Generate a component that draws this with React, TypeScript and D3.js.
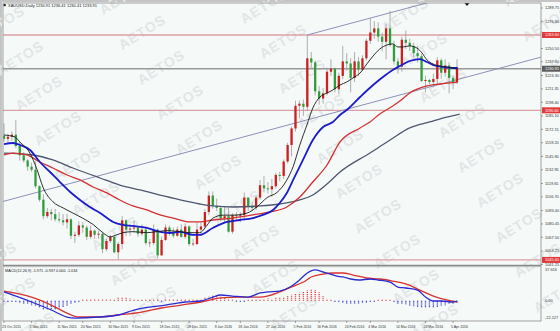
import React from 'react';
import * as d3 from 'd3';

// ---------- DATA ----------
const open = [1166,1163,1165,1167,1156,1147,1142,1136,1133,1117,1104,1088,1092,1090,1085,1084,1082,1085,1069,1070,1079,1077,1068,1074,1070,1071,1056,1064,1068,1053,1061,1084,1075,1076,1077,1071,1075,1062,1062,1075,1050,1065,1077,1073,1069,1075,1068,1078,1061,1061,1075,1078,1092,1108,1098,1096,1086,1088,1073,1089,1088,1089,1106,1098,1096,1106,1118,1115,1114,1117,1128,1127,1141,1157,1173,1195,1197,1194,1241,1237,1209,1202,1207,1228,1231,1211,1224,1238,1236,1222,1238,1230,1241,1258,1266,1270,1262,1257,1270,1254,1238,1233,1259,1256,1253,1246,1243,1219,1220,1218,1221,1239,1227,1234,1222,1218];
const high = [1178,1168,1170,1181,1160,1150,1143,1140,1141,1118,1109,1096,1095,1095,1092,1090,1090,1086,1073,1083,1082,1079,1079,1075,1074,1072,1066,1070,1069,1063,1088,1085,1080,1084,1078,1080,1078,1066,1080,1076,1068,1080,1079,1077,1078,1080,1081,1079,1066,1082,1082,1095,1112,1112,1105,1098,1097,1096,1091,1092,1092,1111,1106,1102,1108,1123,1127,1121,1124,1130,1131,1143,1159,1175,1200,1200,1201,1263.6,1247,1239,1214,1212,1232,1240,1232,1227,1253,1246,1241,1247,1242,1244,1260,1280,1277,1276,1266,1274,1287,1258,1241,1262,1268,1260,1256,1253,1245,1224,1221,1226,1242,1241,1240,1237,1224,1240];
const low = [1160,1159,1161,1154,1142,1140,1132,1131,1115,1102,1085,1086,1084,1083,1082,1079,1076,1066,1062,1068,1072,1065,1066,1066,1066,1052,1054,1062,1052,1046,1056,1069,1069,1072,1068,1069,1060,1058,1060,1047,1050,1064,1069,1067,1068,1067,1066,1059,1059,1060,1071,1076,1089,1095,1093,1083,1081,1072,1071,1084,1082,1084,1093,1093,1094,1104,1111,1110,1107,1115,1122,1124,1139,1146,1170,1183,1185,1190,1232,1205,1196,1197,1205,1224,1208,1206,1221,1229,1208,1218,1224,1229,1239,1255,1260,1257,1248,1240,1252,1235,1226,1228,1250,1248,1242,1237,1218,1208,1216,1213,1216,1221,1223,1207,1211,1216];
const close = [1163,1165,1167,1156,1147,1142,1136,1133,1117,1104,1088,1092,1090,1085,1084,1082,1085,1069,1070,1079,1077,1068,1074,1070,1071,1056,1064,1068,1053,1061,1084,1075,1076,1077,1071,1075,1062,1062.5,1075,1050,1065,1077,1073,1069,1075,1068,1078,1061,1061.5,1075,1078,1092,1108,1098,1096,1086,1088,1073,1089,1088,1089,1106,1098,1096,1106,1118,1115,1114,1117,1128,1127,1141,1157,1173,1195,1197,1194,1241,1237,1209,1202,1207,1228,1231,1211,1224,1238,1236,1222,1238,1230,1241,1258,1266,1270,1262,1257,1270,1254,1238,1233,1259,1256,1253,1246,1243,1219,1220,1218,1221,1239,1227,1234,1222,1218,1231];

// moving averages: [bar index, price]
const maBlack: [number, number][] = [[0,1166.7],[2.8,1164.7],[4,1160],[6.6,1149],[8.4,1133],[9.9,1116],[12.4,1102],[15,1096],[17.5,1091],[20,1086],[22.6,1080],[25.1,1072],[26.9,1068],[28.7,1070],[30.2,1072],[32.7,1073],[36.3,1072],[38.8,1073],[41.4,1074],[44.7,1073],[47.2,1072],[49.7,1072],[51.5,1079],[53,1086],[55.6,1089],[58.1,1089],[61.7,1091],[64.2,1097],[66.8,1106],[69.3,1111],[71.8,1123],[73.4,1136],[75.1,1157],[76.9,1176.4],[78.4,1192.8],[80.2,1203.5],[82,1207.4],[83.5,1210.3],[85.3,1215.1],[87,1218],[88.6,1222],[90.4,1226.8],[92.1,1235.5],[93.7,1243.2],[95.4,1250],[97.2,1253.9],[98.7,1254.9],[100,1252],[101.3,1252],[103,1253],[104.8,1251],[106.1,1246.2],[107.4,1239.4],[108.9,1235.5],[110.7,1233.5],[112.4,1232.6],[114,1231.6],[115,1230.6]];
const maBlue: [number, number][] = [[0,1157.9],[2.3,1158.9],[4.1,1157],[6.6,1152.1],[9.1,1140.5],[11.7,1130.8],[14.2,1121.1],[16.8,1111.4],[19.3,1103.7],[21.8,1096.9],[24.4,1091.1],[27.7,1082.4],[30.2,1079.5],[32.7,1078.5],[36.3,1076.6],[39.6,1072.7],[42.1,1071.7],[44.7,1072.7],[48,1069.8],[49.7,1069.8],[53,1076.6],[56.6,1082.4],[59.9,1084.3],[63.2,1086.2],[65.7,1089.2],[68.3,1094],[70,1100.8],[71.8,1110.5],[73.4,1123.1],[75.9,1142.5],[78.4,1161.8],[81,1174.4],[83.5,1179.3],[85.3,1186.1],[87,1190.9],[90.4,1203.5],[93.7,1215.1],[96.2,1222.9],[98.7,1229.7],[100.5,1233.5],[103,1238.4],[105.6,1240.3],[107.4,1237.4],[108.9,1234.5],[111.4,1232.6],[114,1231.6],[115.2,1231.6]];
const maRed: [number, number][] = [[0,1147.3],[2.3,1149.2],[5.8,1147.3],[9.1,1140.5],[12.4,1134.7],[16,1127.9],[19.3,1123.1],[22.6,1116.3],[26.1,1110.5],[29.4,1103.7],[32.7,1097.9],[36.3,1094],[39.6,1089.2],[42.9,1086.2],[47.2,1082.4],[49.7,1082.4],[53,1084.3],[58.1,1086.2],[63.2,1089.2],[67.5,1092.1],[71.8,1096.9],[75.1,1106.6],[78.4,1121.1],[82,1137.6],[85.3,1159.9],[90.4,1173.5],[92.9,1179.3],[95.4,1187],[98.7,1194.8],[100.5,1199.6],[103,1207.4],[107.4,1214.2],[110.7,1216.1],[115.2,1218]];
const maGray: [number, number][] = [[0,1149.2],[7.4,1147.3],[12.4,1142.5],[17.5,1134.7],[24.4,1125],[29.4,1118.2],[34.5,1113.4],[39.6,1108.5],[44.7,1103.7],[49.7,1099.8],[53,1097.9],[58.1,1096.9],[65,1097.9],[70,1099.8],[75.1,1103.7],[78.4,1108.5],[82,1119.2],[85.3,1130.8],[92.9,1149.2],[98,1161.8],[103,1173.5],[108.1,1179.3],[112.4,1184.1],[115.7,1187]];

// MACD(12,26,9): main line and signal, [bar index, value]
const macdMain: [number, number][] = [[0,9.4],[7,-1.5],[12,-10.2],[16,-17.8],[18,-18.9],[24,-17.8],[29,-15.6],[33,-10.2],[37,-7],[41,-4.8],[44,-2.6],[46,-1.5],[50,-0.4],[53,3.9],[55,6.1],[58,5],[62,3.9],[65,8.3],[67,9.4],[70,10.4],[72.6,14.8],[75,22.4],[77,30],[79,33.3],[81,31.1],[82,30],[84.5,26.7],[86,25.7],[88,23.5],[90,22.4],[93,23.5],[95,22.4],[98,20.2],[100,14.8],[102,13.7],[105,11.5],[107,3.9],[109,-0.4],[111,-0.4],[114,-1.5],[115,-0.4]];
const macdSignal: [number, number][] = [[0,10.4],[7,3.9],[12,-4.8],[16,-13.5],[19,-17.8],[24,-17.8],[29,-15.6],[35,-12.4],[40,-8],[45,-4.8],[50,-1.5],[55,2.9],[60,3.9],[65,3.9],[70,9.4],[73,14.8],[76,20.2],[78,25.7],[81,28.9],[83.5,30],[86,30],[88.6,27.8],[92,24.6],[95.4,23.5],[98.7,21.3],[102,18.1],[105.6,11.5],[109,5],[112.4,0.7],[115,-1.5]];
const macdHist = [-1.5,-1.5,-2,-2,-2.5,-3.5,-4,-5,-6,-8,-9.5,-10.5,-10.5,-10,-8.5,-7,-5.5,-4,-2.5,-1,0.5,0.8,1,1,1.2,1,1.5,1.5,2,3,3.5,3,2.5,2,1.2,1,0.8,0.5,0.3,0.2,-0.3,0.3,0.5,0.3,0.2,0.5,0.8,0.5,0.5,1,1.5,3,4.5,6,5.5,4.5,3.5,2,0.5,-1,-1.5,-1,0.5,1,1.5,2,2,2.5,2,3,3,4,5,6.5,7.5,8.5,10,11,12.5,11.5,9,5,2,0.5,-0.5,-1.5,-2.5,-3,-3,-3,-3,-2.5,-2.5,-2,-1.5,0.3,0.5,0.5,0.3,-2,-3.5,-4,-4.5,-5.5,-6.5,-7,-7.5,-8,-8,-7.5,-7,-6,-5,-4,-3.5,-2.5];

const priceTicks = ['1289.75','1276.80','1250.50','1237.60','1224.30','1211.35','1198.40','1185.10','1172.15','1159.20','1145.90','1132.95','1119.65','1106.70','1093.40','1080.45','1067.50','1054.25','1041.25'];
const redLevels = [1263.6, 1190.6, 1045.6];
const bidPrice = 1230.91;
const dateLabels = ['23 Oct 2015','3 Nov 2015','11 Nov 2015','20 Nov 2015','30 Nov 2015','9 Dec 2015','18 Dec 2015','29 Dec 2015','8 Jan 2016','18 Jan 2016','27 Jan 2016','5 Feb 2016','16 Feb 2016','24 Feb 2016','4 Mar 2016','14 Mar 2016','23 Mar 2016','5 Apr 2016'];
const dateIdx = [0,7,14,20,27,33,40,47,54,60,67,74,80,87,93,100,107,114];
const trendA: [number, number] = [0, 1102.5];
const trendB: [number, number] = [115, 1220.3];
const channelStart: [number, number] = [77, 1263.6];
const macdRange = [-22.127, 37.616];

const title = 'XAUUSD,Daily  1230.91 1236.41 1230.41 1233.91';
const macdTitle = 'MACD(12,26,9) -1.971 -0.937 0.000 -1.034';

// ---------- LAYOUT ----------
const W = 560, H = 331;
const L = 3, R = 541, MT = 3, MB = 265, ST = 267, SB = 321;
const FONT = '"Liberation Sans", Arial, sans-serif';

export default function App() {
  const x = d3.scaleLinear().domain([0, 115]).range([4, 457]);
  const y = d3.scaleLinear().domain([1054.25, 1289.75]).range([251, 8]);
  const ym = d3.scaleLinear().domain(macdRange).range([SB, 266]);

  const priceLine = d3.line<[number, number]>().x(d => x(d[0])).y(d => y(d[1])).curve(d3.curveMonotoneX);
  const macdLine = d3.line<[number, number]>().x(d => x(d[0])).y(d => ym(d[1])).curve(d3.curveMonotoneX);
  const straight = d3.line<[number, number]>().x(d => x(d[0])).y(d => y(d[1]));

  const slope = (trendB[1] - trendA[1]) / (trendB[0] - trendA[0]);
  const iL = x.invert(L), iR = x.invert(R);
  const trendPts: [number, number][] = [[iL, trendA[1] + slope * (iL - trendA[0])], [iR, trendA[1] + slope * (iR - trendA[0])]];
  const chanPts: [number, number][] = [channelStart, [iR, channelStart[1] + slope * (iR - channelStart[0])]];

  // watermark lattice
  const marks: [number, number][] = [];
  for (let n = -12; n <= 14; n++) {
    for (let m = -8; m <= 8; m++) {
      const cx = 142 + n * 19 - m * 122;
      const cy = 32 + n * 35 + m * 26;
      if (cx > -40 && cx < 600 && cy > -25 && cy < 360) marks.push([cx, cy]);
    }
  }

  const bw = 2.3;
  const zeroY = ym(0);

  return (
    <svg width={W} height={H} viewBox={`0 0 ${W} ${H}`} style={{ position: 'absolute', left: 0, top: 0, display: 'block' }}>
      <defs>
        <clipPath id="mainClip"><rect x={L} y={MT} width={R - L} height={MB - MT} /></clipPath>
        <clipPath id="subClip"><rect x={L} y={ST} width={R - L} height={SB - ST} /></clipPath>
      </defs>
      <rect x={0} y={0} width={W} height={H} fill="#f5faf9" />
      <rect x={0} y={0} width={2} height={H} fill="#c4c4c4" />
      <rect x={0} y={0} width={W} height={2} fill="#c4c4c4" />

      {/* watermark */}
      <g fontFamily={FONT} fontWeight="bold" fontSize={14} fill="#e2e6e6" textAnchor="middle">
        {marks.map(([cx, cy], k) => (
          <text key={k} x={cx} y={cy + 5} transform={`rotate(-32 ${cx} ${cy})`} letterSpacing={1}>AETOS</text>
        ))}
      </g>

      {/* main panel */}
      <g clipPath="url(#mainClip)">
        {redLevels.map((p, k) => (
          <line key={k} x1={L} x2={R} y1={y(p)} y2={y(p)} stroke="#dca0a4" strokeWidth={1.3} />
        ))}
        <line x1={L} x2={R} y1={y(bidPrice)} y2={y(bidPrice)} stroke="#9a9a9a" strokeWidth={1.4} />
        <path d={straight(trendPts) || ''} fill="none" stroke="#8e90b8" strokeWidth={1} />
        <path d={straight(chanPts) || ''} fill="none" stroke="#8e90b8" strokeWidth={1} />

        {close.map((c, i) => {
          const o = open[i];
          const up = c >= o;
          const top = y(Math.max(o, c));
          const h = Math.max(0.8, Math.abs(y(o) - y(c)));
          return (
            <g key={i}>
              <line x1={x(i)} x2={x(i)} y1={y(high[i])} y2={y(low[i])} stroke="#9a9a9a" strokeWidth={0.8} />
              <rect x={x(i) - bw / 2} y={top} width={bw} height={h} fill={up ? '#cc1f1f' : '#2f9e3a'} />
            </g>
          );
        })}

        <path d={priceLine(maGray) || ''} fill="none" stroke="#4e5670" strokeWidth={1.3} />
        <path d={priceLine(maRed) || ''} fill="none" stroke="#d2302f" strokeWidth={1.3} />
        <path d={priceLine(maBlue) || ''} fill="none" stroke="#1c1ccc" strokeWidth={1.8} />
        <path d={priceLine(maBlack) || ''} fill="none" stroke="#1a1a1a" strokeWidth={0.9} />
      </g>
      <text x={8} y={6.8} fontFamily={FONT} fontSize={4} fill="#222">{title}</text>
      <rect x={3.5} y={4} width={2.2} height={2.2} fill="#222" />
      <path d="M464.5,3 L469.5,3 L467,6 Z" fill="#111" />

      {/* MACD panel */}
      <g clipPath="url(#subClip)">
        {macdHist.map((v, i) => {
          const y2 = ym(v);
          const len = Math.abs(y2 - zeroY) < 1 ? (v >= 0 ? -1 : 1) : y2 - zeroY;
          return (
            <line key={i} x1={x(i)} x2={x(i)} y1={zeroY} y2={zeroY + len}
              stroke={v >= 0 ? '#e03030' : '#2424c8'} strokeWidth={1.3} strokeDasharray="1,0.9" />
          );
        })}
        <path d={macdLine(macdSignal) || ''} fill="none" stroke="#d8322f" strokeWidth={1.3} />
        <path d={macdLine(macdMain) || ''} fill="none" stroke="#2a2ad0" strokeWidth={1.3} />
      </g>
      <text x={5} y={271.6} fontFamily={FONT} fontSize={3.8} fill="#222">{macdTitle}</text>

      {/* frames */}
      <rect x={L} y={MT} width={R - L} height={SB - MT} fill="none" stroke="#8a8a8a" strokeWidth={0.8} />
      <line x1={L} x2={R} y1={MB + 0.5} y2={MB + 0.5} stroke="#8a8a8a" strokeWidth={1.6} />
      <line x1={L} x2={R} y1={ST - 0.3} y2={ST - 0.3} stroke="#b0b0b0" strokeWidth={0.8} />

      {/* price axis */}
      <g fontFamily={FONT} fontSize={3.9} fill="#333">
        {priceTicks.map((t, k) => {
          const yy = y(+t);
          return (
            <g key={k}>
              <line x1={R} x2={R + 2} y1={yy} y2={yy} stroke="#666" strokeWidth={0.6} />
              <text x={545} y={yy + 1.4}>{t}</text>
            </g>
          );
        })}
        {redLevels.map((p, k) => (
          <g key={k}>
            <rect x={R + 1} y={y(p) - 3} width={18} height={6} fill="#e03a3a" />
            <text x={545} y={y(p) + 1.4} fill="#fff">{p.toFixed(2)}</text>
          </g>
        ))}
        <rect x={R + 1} y={y(bidPrice) - 3} width={18} height={6} fill="#5c5c5c" />
        <text x={545} y={y(bidPrice) + 1.4} fill="#fff">{bidPrice.toFixed(2)}</text>
        <text x={545} y={271}>{macdRange[1].toFixed(3)}</text>
        <text x={545} y={zeroY + 1.4}>0.00</text>
        <text x={545} y={318.5}>{macdRange[0].toFixed(3)}</text>
      </g>

      {/* date axis */}
      <g fontFamily={FONT} fontSize={3.5} fill="#333">
        {dateLabels.map((t, k) => (
          <g key={k}>
            <line x1={x(dateIdx[k])} x2={x(dateIdx[k])} y1={SB} y2={SB + 2} stroke="#666" strokeWidth={0.6} />
            <text x={x(dateIdx[k]) - 2} y={327.5}>{t}</text>
          </g>
        ))}
      </g>
    </svg>
  );
}
